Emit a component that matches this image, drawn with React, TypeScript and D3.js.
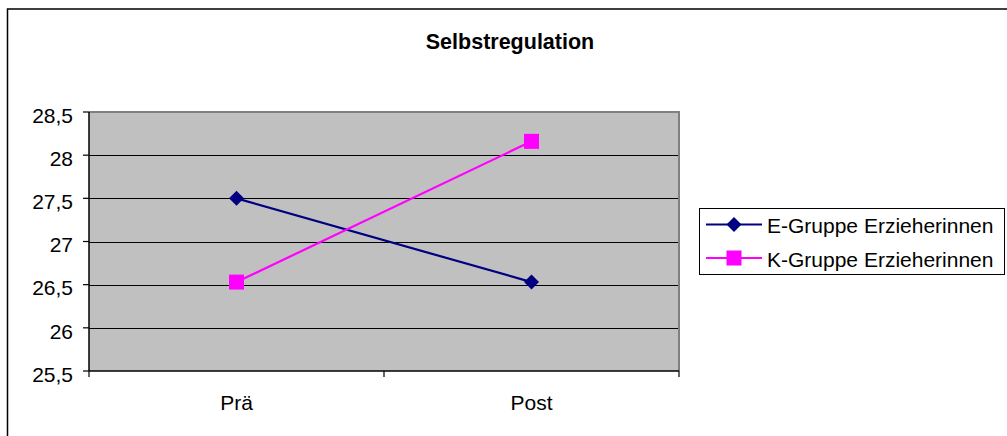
import React from "react";
import * as d3 from "d3";

// Chart data
const categories = ["Prä", "Post"];
const seriesNames = ["E-Gruppe Erzieherinnen", "K-Gruppe Erzieherinnen"];
const eGruppe = [27.5, 26.53];
const kGruppe = [26.53, 28.16];
const yTicks = [25.5, 26, 26.5, 27, 27.5, 28, 28.5];
const yTickLabels = ["25,5", "26", "26,5", "27", "27,5", "28", "28,5"];
const title = "Selbstregulation";

const W = 1007;
const H = 436;
const plot = { left: 89, right: 679, top: 112, bottom: 371 };
const FONT = "'Liberation Sans', Arial, Helvetica, sans-serif";
const NAVY = "#000080";
const MAGENTA = "#FF00FF";

export default function App() {
  const x = d3
    .scaleBand<string>()
    .domain(categories)
    .range([plot.left, plot.right])
    .paddingInner(0)
    .paddingOuter(0);
  const y = d3.scaleLinear().domain([25.5, 28.5]).range([plot.bottom, plot.top]);
  const cx = (c: string) => (x(c) as number) + x.bandwidth() / 2;

  const line = d3
    .line<number>()
    .x((_, i) => cx(categories[i]))
    .y((v) => y(v));

  const series = [
    { name: seriesNames[0], values: eGruppe, color: NAVY, marker: "diamond" },
    { name: seriesNames[1], values: kGruppe, color: MAGENTA, marker: "square" },
  ];

  const marker = (kind: string, px: number, py: number, color: string, key: string) =>
    kind === "diamond" ? (
      <path
        key={key}
        d={`M${px},${py - 7.5}L${px + 7.5},${py}L${px},${py + 7.5}L${px - 7.5},${py}Z`}
        fill={color}
      />
    ) : (
      <rect key={key} x={px - 7.5} y={py - 7.5} width={15} height={15} fill={color} />
    );

  const xTickPositions = [plot.left, ...categories.slice(1).map((c) => x(c) as number), plot.right];

  const legend = { x: 699.5, y: 208.5, w: 305, h: 66 };
  const legendRows = [224.5, 258];

  return (
    <svg
      width={W}
      height={H}
      style={{ position: "absolute", left: 0, top: 0, background: "#fff" }}
      fontFamily={FONT}
    >
      {/* outer chart frame */}
      <rect x={7.5} y={9} width={1100} height={500} fill="#fff" stroke="#000" strokeWidth={1.5} />

      <text x={510} y={49} textAnchor="middle" fontSize={21.5} fontWeight="bold" fill="#000">
        {title}
      </text>

      {/* plot area */}
      <rect
        x={plot.left}
        y={plot.top}
        width={plot.right - plot.left}
        height={plot.bottom - plot.top}
        fill="#C0C0C0"
      />
      {yTicks.slice(1, -1).map((t) => (
        <line
          key={t}
          x1={plot.left}
          x2={plot.right}
          y1={Math.round(y(t)) + 0.5}
          y2={Math.round(y(t)) + 0.5}
          stroke="#000"
          strokeWidth={1}
        />
      ))}
      {/* plot border (top / right) */}
      <path
        d={`M${plot.left},${plot.top}H${plot.right}V${plot.bottom}`}
        fill="none"
        stroke="#808080"
        strokeWidth={2}
      />

      {/* y axis */}
      <line x1={plot.left} x2={plot.left} y1={plot.top} y2={plot.bottom} stroke="#000" strokeWidth={1.5} />
      {yTicks.map((t, i) => (
        <g key={t}>
          <line x1={plot.left - 6} x2={plot.left} y1={y(t)} y2={y(t)} stroke="#000" strokeWidth={1.2} />
          <text x={73} y={y(t) + 10.7} textAnchor="end" fontSize={21} fill="#000">
            {yTickLabels[i]}
          </text>
        </g>
      ))}

      {/* x axis */}
      <line x1={plot.left} x2={plot.right} y1={plot.bottom} y2={plot.bottom} stroke="#000" strokeWidth={1.5} />
      {xTickPositions.map((p, i) => (
        <line key={i} x1={p} x2={p} y1={plot.bottom} y2={plot.bottom + 6} stroke="#000" strokeWidth={1.2} />
      ))}
      {categories.map((c) => (
        <text key={c} x={cx(c)} y={410} textAnchor="middle" fontSize={21} fill="#000">
          {c}
        </text>
      ))}

      {/* series */}
      {series.map((s) => (
        <g key={s.name}>
          <path d={line(s.values) || ""} fill="none" stroke={s.color} strokeWidth={2.2} />
          {s.values.map((v, i) => marker(s.marker, cx(categories[i]), y(v), s.color, `${s.name}-${i}`))}
        </g>
      ))}

      {/* legend */}
      <rect x={legend.x} y={legend.y} width={legend.w} height={legend.h} fill="#fff" stroke="#000" strokeWidth={1} />
      {series.map((s, i) => (
        <g key={s.name}>
          <line x1={706} x2={762} y1={legendRows[i]} y2={legendRows[i]} stroke={s.color} strokeWidth={2.2} />
          {marker(s.marker, 734, legendRows[i], s.color, `lg-${i}`)}
          <text x={767} y={legendRows[i] + 8.5} fontSize={21} fill="#000">
            {s.name}
          </text>
        </g>
      ))}
    </svg>
  );
}
